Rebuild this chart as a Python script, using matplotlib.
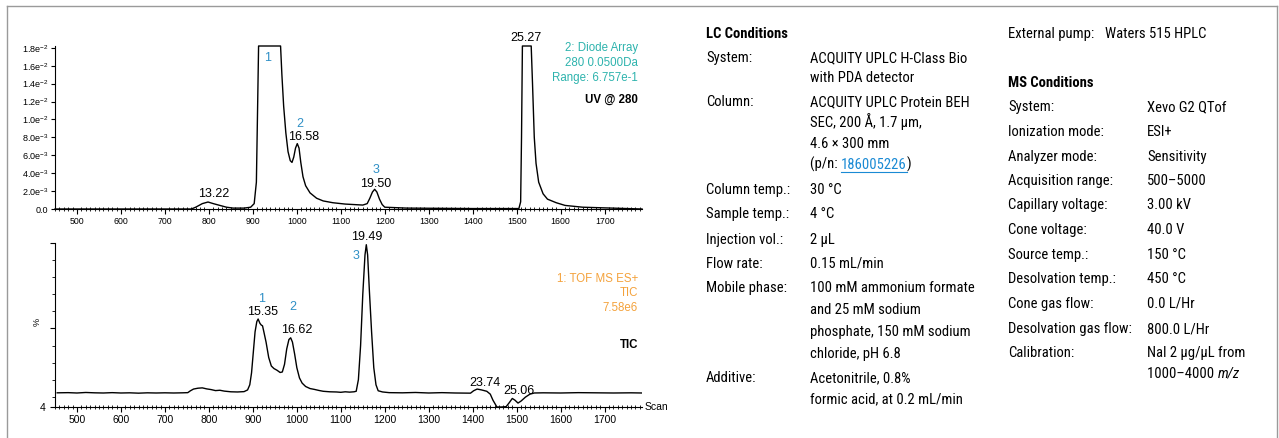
import numpy as np
import matplotlib
matplotlib.use("Agg")
import matplotlib.pyplot as plt
import matplotlib.lines as mlines
from matplotlib.ticker import MultipleLocator, FixedLocator

plt.rcParams['font.family'] = ['Liberation Sans', 'DejaVu Sans']
plt.rcParams['mathtext.fontset'] = 'custom'
plt.rcParams['mathtext.rm'] = 'Liberation Sans'
plt.rcParams['mathtext.it'] = 'Liberation Sans:italic'
plt.rcParams['mathtext.bf'] = 'Liberation Sans:bold'

# UV @ 280 trace (scan, absorbance)
uv_scan = [450, 760, 770, 785, 798, 810, 825, 840, 855, 880, 895, 903, 908, 911, 913,
           963, 966, 970, 975, 980, 985, 989, 993, 997, 1001, 1005, 1009, 1014, 1020,
           1030, 1045, 1060, 1082, 1110, 1150, 1160, 1166, 1172, 1177, 1182, 1188, 1194,
           1200, 1250, 1400, 1505, 1509, 1511, 1513, 1533, 1536, 1540, 1544, 1550, 1560,
           1570, 1590, 1610, 1650, 1785]
uv_abs = [0.0, 0.0, 0.0002, 0.0006, 0.00078, 0.0006, 0.0004, 0.0002, 0.0001, 0.0001,
          0.0002, 0.0006, 0.003, 0.012, 0.0182,
          0.0182, 0.015, 0.0115, 0.0085, 0.0064, 0.0054, 0.0052, 0.0058, 0.0068, 0.0073,
          0.0068, 0.0052, 0.0036, 0.0026,
          0.0018, 0.0012, 0.0009, 0.0007, 0.00055, 0.00044, 0.0006, 0.0012, 0.0019, 0.0022,
          0.0019, 0.0011, 0.0005,
          0.0002, 0.0001, 0.00005, 0.00005, 0.0008, 0.008, 0.0182, 0.0182, 0.014, 0.008,
          0.0051, 0.003, 0.0017,
          0.0011, 0.0007, 0.0004, 0.0002, 0.0]

# TIC trace (scan, %)
tic_scan = [455, 480, 500, 520, 540, 560, 580, 600, 620, 640, 660, 680, 700, 720, 740,
            752, 758, 765, 775, 785, 795, 805, 815, 825, 835, 850, 865, 880, 888, 893,
            897, 901, 905, 909, 912, 916, 919, 922, 925, 930, 936, 942, 948, 955, 962,
            967, 972, 977, 982, 986, 990, 995, 1000, 1006, 1012, 1020, 1030, 1040, 1050,
            1060, 1075, 1090, 1100, 1110, 1120, 1130, 1135, 1140, 1145, 1150, 1155, 1158,
            1161, 1165, 1170, 1175, 1180, 1185, 1195, 1210, 1240, 1270, 1300, 1330, 1360,
            1395, 1402, 1410, 1420, 1432, 1440, 1446, 1455, 1465, 1476, 1483, 1490, 1496,
            1503, 1510, 1520, 1530, 1540, 1560, 1600, 1640, 1680, 1720, 1760, 1785]
tic_pct = [12.3, 12.4, 12.2, 12.5, 12.3, 12.2, 12.4, 12.2, 12.3, 12.1, 12.3, 12.2, 12.3,
           12.2, 12.3,
           12.4, 13.5, 14.5, 15.0, 15.2, 14.6, 14.2, 13.6, 13.8, 13.3, 12.9, 12.8, 13.0,
           14.0, 17,
           24, 36, 48, 54, 55.5, 53, 52, 51.5, 48, 42, 33, 28, 26.5, 25.5, 24.2,
           24.5, 29, 38, 43.5, 44.5, 42, 35, 27, 21, 18, 16, 14.8, 14.3, 13.7,
           13.2, 12.9, 12.8, 12.6, 12.9, 12.7, 12.9, 13.2, 20, 40, 70, 93, 99,
           93, 72, 48, 27, 17, 13.5, 12.8, 12.4, 12.3, 12.5, 12.2, 12.4, 12.2,
           12.1, 13.5, 14.5, 14.0, 13.2, 11.5, 8, 4.0, 4.0, 4.2, 6.5, 9.0, 8.0,
           6.3, 7.5, 9.8, 11.5, 12.2, 12.3, 12.2, 12.4, 12.3, 12.2, 12.3, 12.2]

# peak labels: (text, scan, value)
uv_rt = [('13.22', 811, 0.00166), ('16.58', 1016, 0.0080), ('19.50', 1180, 0.00276),
         ('25.27', 1520, 0.0191)]
uv_num = [('1', 934, 0.0169), ('2', 1007, 0.0095), ('3', 1180, 0.0044)]
tic_rt = [('15.35', 923, 59.6), ('16.62', 1000, 49.1), ('19.49', 1159, 103.5),
          ('23.74', 1427, 18.0), ('25.06', 1505, 13.4)]
tic_num = [('1', 920, 67.2), ('2', 991, 62.5), ('3', 1134, 92.4)]

lc_rows = [('System:', ['ACQUITY UPLC H-Class Bio', 'with PDA detector']),
           ('Column:', ['ACQUITY UPLC Protein BEH', 'SEC, 200 Å, 1.7 µm,',
                        '4.6 × 300 mm', None]),
           ('Column temp.:', ['30 °C']),
           ('Sample temp.:', ['4 °C']),
           ('Injection vol.:', ['2 µL']),
           ('Flow rate:', ['0.15 mL/min']),
           ('Mobile phase:', ['100 mM ammonium formate', 'and 25 mM sodium',
                              'phosphate, 150 mM sodium', 'chloride, pH 6.8']),
           ('Additive:', ['Acetonitrile, 0.8%', 'formic acid, at 0.2 mL/min'])]
lc_y = [57, 77, 101, 122, 143, 164, 189, 213, 239, 263, 287, 309, 331, 353, 377, 398]

ms_rows = [('System:', ['Xevo G2 QTof']),
           ('Ionization mode:', ['ESI+']),
           ('Analyzer mode:', ['Sensitivity']),
           ('Acquisition range:', ['500–5000']),
           ('Capillary voltage:', ['3.00 kV']),
           ('Cone voltage:', ['40.0 V']),
           ('Source temp.:', ['150 °C']),
           ('Desolvation temp.:', ['450 °C']),
           ('Cone gas flow:', ['0.0 L/Hr']),
           ('Desolvation gas flow:', ['800.0 L/Hr']),
           ('Calibration:', ['NaI 2 µg/µL from', None])]
ms_y = [106, 131, 156, 180, 204, 229, 254, 278, 303, 328, 352, 373]

W, H = 1279, 438
fig = plt.figure(figsize=(W / 100, H / 100), dpi=100)

def fx(px):
    return px / W

def fy(py):
    # row centres are given; text is placed on its baseline
    return 1 - py / H

blue = '#2e8fc6'
teal = '#2db3ad'
orange = '#f4a23c'

def style_axis(ax):
    for s in ['top', 'right']:
        ax.spines[s].set_visible(False)
    for s in ['left', 'bottom']:
        ax.spines[s].set_linewidth(0.8)
    ax.set_xlim(450, 1785)
    ax.xaxis.set_major_locator(MultipleLocator(100))
    ax.xaxis.set_minor_locator(MultipleLocator(10))
    ax.tick_params(axis='x', which='major', direction='out', length=3.5, width=0.8,
                   labelsize=6.3, pad=2)
    ax.tick_params(axis='x', which='minor', direction='inout', length=2.5, width=0.6)
    ax.set_xticks([t for t in range(500, 1800, 100)])
    ax.patch.set_alpha(0)

# top: UV
ax1 = fig.add_axes([fx(55), fy(209), fx(587), 163 / H])
style_axis(ax1)
ax1.plot(uv_scan, uv_abs, color='black', lw=1.0, clip_on=False)
ax1.set_ylim(0, 0.0182)
yt = [i * 0.002 for i in range(10)]
ax1.yaxis.set_major_locator(FixedLocator(yt))
ylabs = ['0.0'] + ['%.1fe$^{-3}$' % (v * 1000) for v in yt[1:5]] + \
        ['%.1fe$^{-2}$' % (v * 100) for v in yt[5:]]
ax1.set_yticklabels(ylabs)
ax1.tick_params(axis='y', direction='out', length=3, width=0.8, labelsize=6.5, pad=2)
for t, x, y in uv_rt:
    ax1.text(x, y, t, fontsize=9, ha='center', va='center')
for t, x, y in uv_num:
    ax1.text(x, y, t, fontsize=9, ha='center', va='center', color=blue)
for i, t in enumerate(['2: Diode Array', '280 0.0500Da', 'Range: 6.757e-1']):
    ax1.text(0.993, [0.988, 0.896, 0.804][i], t, transform=ax1.transAxes,
             ha='right', va='center', fontsize=8.3, color=teal)
ax1.text(0.993, 0.669, 'UV @ 280', transform=ax1.transAxes, ha='right', va='center',
         fontsize=8.3, fontweight='bold')

# bottom: TIC
ax2 = fig.add_axes([fx(55), fy(407), fx(587), 164 / H])
style_axis(ax2)
ax2.plot(tic_scan, tic_pct, color='black', lw=1.0)
ax2.set_ylim(4, 100)
ax2.yaxis.set_major_locator(FixedLocator([4, 50, 100]))
ax2.yaxis.set_minor_locator(FixedLocator(list(range(10, 100, 10))))
ax2.set_yticklabels(['4', '', ''])
ax2.tick_params(axis='y', which='major', direction='out', length=3.5, width=0.8,
                labelsize=7.5, pad=3)
ax2.tick_params(axis='y', which='minor', direction='out', length=2, width=0.6)
ax2.tick_params(axis='x', which='major', labelsize=7.5)
ax2.set_ylabel('%', fontsize=6.5)
ax2.yaxis.set_label_coords(-0.022, 0.52)
for t, x, y in tic_rt:
    ax2.text(x, y, t, fontsize=9, ha='center', va='center', clip_on=False)
for t, x, y in tic_num:
    ax2.text(x, y, t, fontsize=9, ha='center', va='center', color=blue)
for i, t in enumerate(['1: TOF MS ES+', 'TIC', '7.58e6']):
    ax2.text(0.993, [0.780, 0.695, 0.604][i], t, transform=ax2.transAxes,
             ha='right', va='center', fontsize=8.3, color=orange)
ax2.text(0.993, 0.378, 'TIC', transform=ax2.transAxes, ha='right', va='center',
         fontsize=8.3, fontweight='bold')
ax2.text(1.004, 0.0, 'Scan', transform=ax2.transAxes, ha='left', va='center',
         fontsize=7.5)

# frame around the figure
gray = '#9a9a9a'
fig.add_artist(mlines.Line2D([fx(7), fx(7)], [0, fy(6)], color=gray, lw=1.0))
fig.add_artist(mlines.Line2D([fx(7), fx(1277)], [fy(6), fy(6)], color=gray, lw=1.0))
fig.add_artist(mlines.Line2D([fx(1277), fx(1277)], [0, fy(6)], color=gray, lw=1.0))

# condition tables
tfont = ['Roboto Condensed', 'Roboto']
fs = 10.5
base = 5  # px from row centre down to text baseline
renderer = fig.canvas.get_renderer()

def put(px, py, txt, **kw):
    return fig.text(fx(px), fy(py + base), txt, fontsize=fs, family=tfont,
                    va='baseline', **kw)

def trailing(prev, txt, **kw):
    bb = prev.get_window_extent(renderer)
    return fig.text(bb.x1 / W, prev.get_position()[1], txt, va='baseline',
                    fontsize=fs, family=tfont, **kw)

put(706, 33, 'LC Conditions', fontweight='bold')
k = 0
for lab, vals in lc_rows:
    put(706, lc_y[k], lab)
    for v in vals:
        if v is None:
            t0 = put(810, lc_y[k], '(p/n: ')
            t1 = trailing(t0, '186005226', color='#1a8ad4')
            bb = t1.get_window_extent(renderer)
            yline = fy(lc_y[k] + base + 2.5)
            fig.add_artist(mlines.Line2D([bb.x0 / W, bb.x1 / W], [yline, yline],
                                         color='#1a8ad4', lw=0.8))
            trailing(t1, ')')
        else:
            put(810, lc_y[k], v)
        k += 1

put(1008, 33, 'External pump:')
put(1105, 33, 'Waters 515 HPLC')
put(1008, 82, 'MS Conditions', fontweight='bold')
k = 0
for lab, vals in ms_rows:
    put(1008, ms_y[k], lab)
    for v in vals:
        if v is None:
            t0 = put(1147, ms_y[k], '1000–4000 ')
            trailing(t0, 'm/z', style='italic')
        else:
            put(1147, ms_y[k], v)
        k += 1

fig.savefig('out.png', dpi=100)
